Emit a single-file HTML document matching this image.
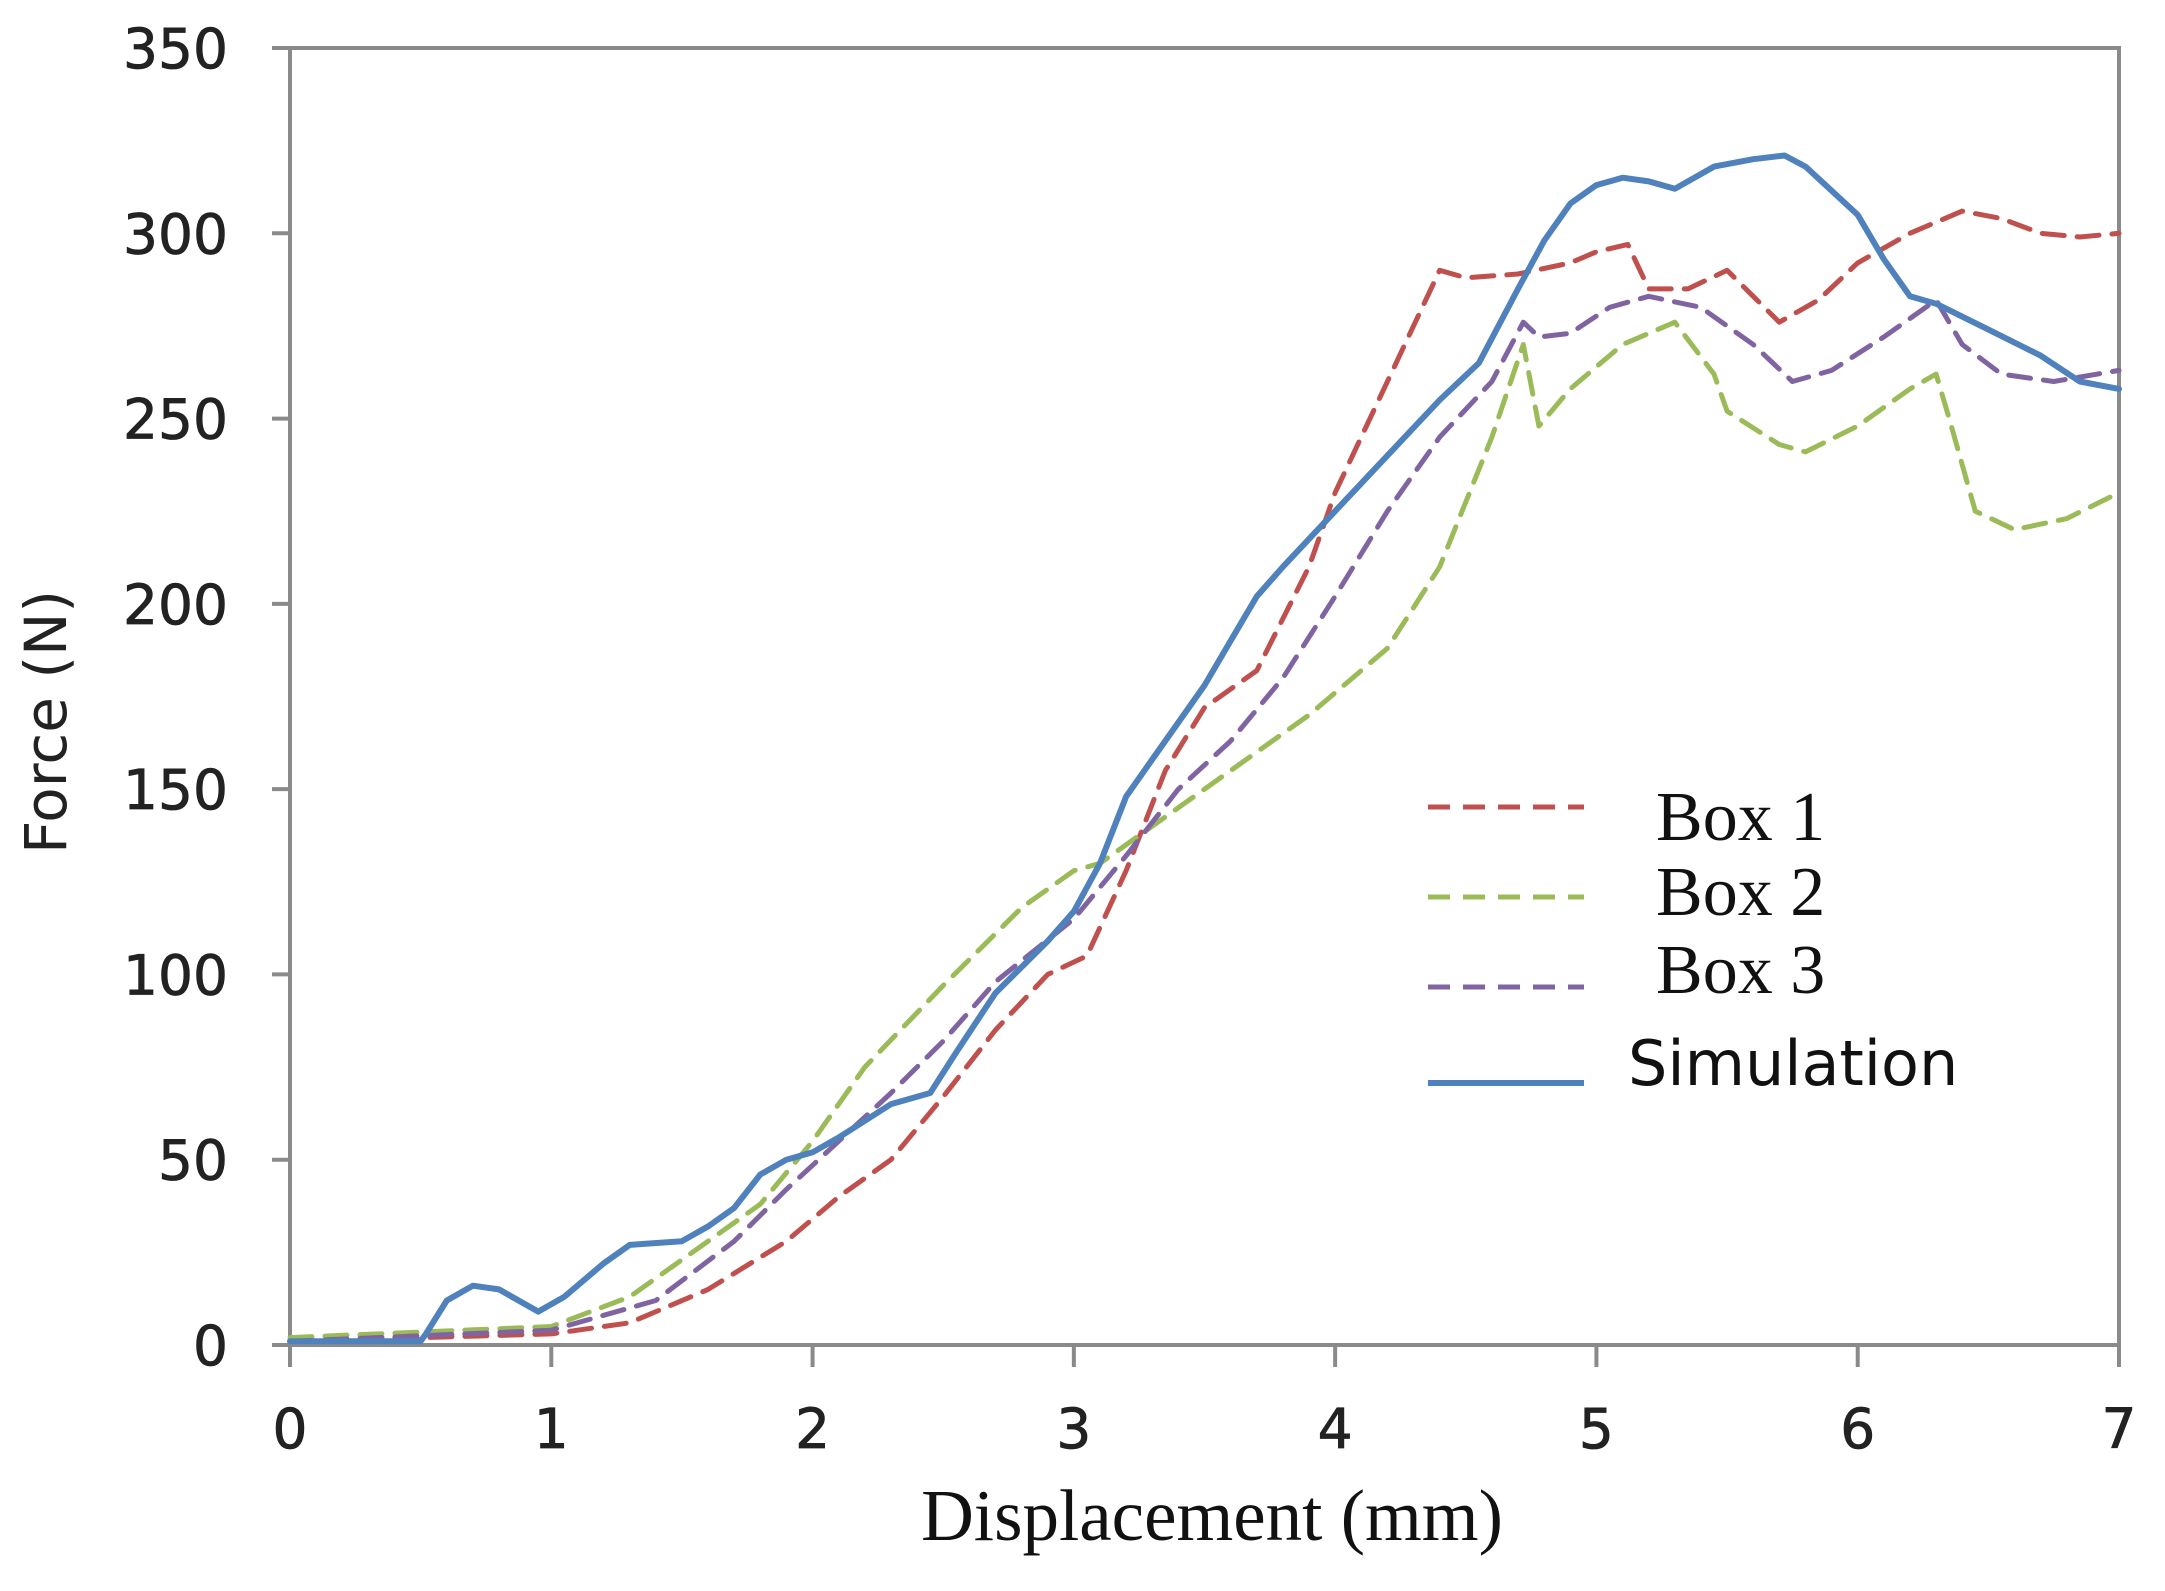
<!DOCTYPE html>
<html><head><meta charset="utf-8"><style>
html,body{margin:0;padding:0;background:#fff;}
svg{display:block;}
</style></head><body>
<svg id="chart" width="2165" height="1591" viewBox="0 0 2165 1591" xmlns="http://www.w3.org/2000/svg">
<rect width="2165" height="1591" fill="#fff"/>
<g id="axes"></g>
<g id="series"></g>
<g id="legend"></g>
</svg>
<script>
const xTicks = [0,1,2,3,4,5,6,7];
const yTicks = [0,50,100,150,200,250,300,350];
const simX = [0,0.5,0.52,0.6,0.7,0.8,0.95,1.05,1.2,1.3,1.5,1.6,1.7,1.8,1.9,2.0,2.1,2.3,2.45,2.55,2.7,2.9,3.0,3.1,3.2,3.3,3.5,3.6,3.7,3.8,4.0,4.2,4.4,4.55,4.7,4.8,4.9,5.0,5.1,5.2,5.3,5.45,5.6,5.72,5.8,6.0,6.1,6.2,6.3,6.5,6.7,6.85,7.0];
const simY = [1,1,3,12,16,15,9,13,22,27,28,32,37,46,50,52,56,65,68,79,95,109,117,130,148,158,178,190,202,210,225,240,255,265,285,298,308,313,315,314,312,318,320,321,318,305,293,283,281,274,267,260,258];
const box1X = [0,1,1.3,1.6,1.9,2.1,2.3,2.5,2.7,2.9,3.05,3.2,3.35,3.5,3.7,3.9,4.0,4.2,4.4,4.5,4.7,4.9,5.0,5.12,5.2,5.35,5.5,5.6,5.7,5.85,6.0,6.2,6.4,6.55,6.7,6.85,7.0];
const box1Y = [1,3,6,15,28,40,50,67,85,100,105,128,155,172,182,210,230,260,290,288,289,292,295,297,285,285,290,283,276,282,292,300,306,304,300,299,300];
const box2X = [0,1,1.3,1.6,1.8,2.0,2.2,2.5,2.8,3.0,3.1,3.3,3.6,3.9,4.2,4.4,4.6,4.72,4.78,4.9,5.1,5.3,5.45,5.5,5.7,5.8,6.0,6.2,6.3,6.35,6.45,6.6,6.8,7.0];
const box2Y = [2,5,13,28,38,55,75,97,118,128,130,140,155,170,188,210,245,270,248,258,270,276,262,252,243,241,248,258,262,250,225,220,223,230];
const box3X = [0,1,1.4,1.7,1.9,2.1,2.3,2.5,2.7,3.0,3.2,3.4,3.6,3.8,4.0,4.2,4.4,4.6,4.72,4.78,4.9,5.05,5.2,5.4,5.6,5.75,5.9,6.1,6.3,6.4,6.55,6.75,7.0];
const box3Y = [1,4,12,28,42,55,68,82,98,115,132,150,163,180,202,225,245,260,276,272,273,280,283,280,270,260,263,272,282,270,262,260,263];

const NS='http://www.w3.org/2000/svg';
const X0=290,X1=2119,Y0=1345,Y1=48;
const sx=v=>X0+(v-0)/(7-0)*(X1-X0);
const sy=v=>Y0-(v-0)/(350-0)*(Y0-Y1);
function mk(tag,attrs,parent,text){const e=document.createElementNS(NS,tag);for(const k in attrs)e.setAttribute(k,attrs[k]);if(text!==undefined)e.textContent=text;parent.appendChild(e);return e;}
const axes=document.getElementById('axes');
const frame=mk('rect',{x:X0,y:Y1,width:X1-X0,height:Y0-Y1,fill:'none',stroke:'#8a8a8a','stroke-width':4},axes);


yTicks.forEach(t=>{
  const l=mk('line',{x1:X0-18,x2:X0,y1:sy(t),y2:sy(t),stroke:'#8a8a8a','stroke-width':4},axes);
  
  
  const tx=mk('text',{x:228,y:sy(t)+20,'text-anchor':'end','font-family':'"DejaVu Sans","Liberation Sans",sans-serif','font-size':55,fill:'#222',stroke:'#222','stroke-width':0.8},axes,String(t));
  
  
});
xTicks.forEach(t=>{
  const l=mk('line',{x1:sx(t),x2:sx(t),y1:Y0,y2:Y0+22,stroke:'#8a8a8a','stroke-width':4},axes);
  
  
  const tx=mk('text',{x:sx(t),y:1448,'text-anchor':'middle','font-family':'"DejaVu Sans","Liberation Sans",sans-serif','font-size':55,fill:'#222',stroke:'#222','stroke-width':0.8},axes,String(t));
  
  
});
const xt=mk('text',{x:1212,y:1540,'text-anchor':'middle','font-family':'"Liberation Serif",serif','font-size':73,fill:'#111'},axes,'Displacement (mm)');


const yt=mk('text',{x:0,y:0,'text-anchor':'middle','font-family':'"DejaVu Sans","Liberation Sans",sans-serif','font-size':58,fill:'#222',transform:'translate(66,722) rotate(-90)'},axes,'Force (N)');



const series=document.getElementById('series');
function draw(xs,ys,color,dash,name){
  const pts=xs.map((x,i)=>sx(x).toFixed(1)+','+sy(ys[i]).toFixed(1)).join(' ');
  const a={points:pts,fill:'none',stroke:color,'stroke-width':dash?5:6,'stroke-linejoin':'round','stroke-linecap':'round'};
  if(dash)a['stroke-dasharray']='22 13';
  const p=mk('polyline',a,series);
  
  
}
draw(box1X,box1Y,'#c0504d',true,'box1-line');
draw(box2X,box2Y,'#9bbb59',true,'box2-line');
draw(box3X,box3Y,'#8064a2',true,'box3-line');
draw(simX,simY,'#4f81bd',false,'simulation-line');

const leg=document.getElementById('legend');
const entries=[['Box 1','#c0504d',true,807,'"Liberation Serif",serif',1656,840],['Box 2','#9bbb59',true,897,'"Liberation Serif",serif',1656,915],['Box 3','#8064a2',true,987,'"Liberation Serif",serif',1656,993],['Simulation','#4f81bd',false,1083,'"DejaVu Sans","Liberation Sans",sans-serif',1628,1085]];
entries.forEach(e=>{
  const g=mk('g',{},leg);
  
  
  const a={x1:1428,x2:1584,y1:e[3],y2:e[3],stroke:e[1],'stroke-width':e[2]?5:6};
  if(e[2])a['stroke-dasharray']='22 13';
  mk('line',a,g);
  mk('text',{x:e[5],y:e[6],'font-family':e[4],'font-size':e[2]?70:62,fill:'#111'},g,e[0]);
});
</script>
</body></html>
